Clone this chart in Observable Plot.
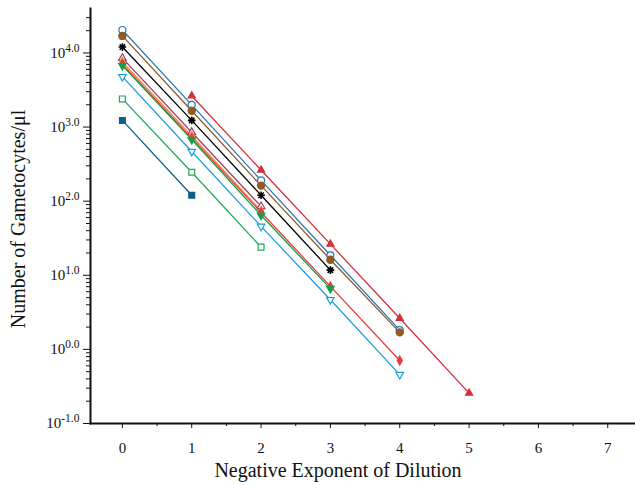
<!DOCTYPE html>
<html><head><meta charset="utf-8">
<script src="https://cdn.jsdelivr.net/npm/d3@7"></script>
<script src="https://cdn.jsdelivr.net/npm/@observablehq/plot@0.6"></script>
<style>
body{margin:0;background:#fff}
svg{font-family:"Liberation Serif","Times New Roman",serif}
</style>
</head><body><div id="chart"></div>
<script>
// Negative exponent of dilution (x)
const dilution = [0, 1, 2, 3, 4, 5];
const xTicks = [0, 1, 2, 3, 4, 5, 6, 7];
const xMinorTicks = [0.5, 1.5, 2.5, 3.5, 4.5, 5.5, 6.5];
const yTickExponents = [-1, 0, 1, 2, 3, 4];

// log10(gametocytes/µl) for each sample, starting at the given dilution
const blueCircle    = [4.31, 3.30, 2.28, 1.27, 0.26];
const brownCircle   = [4.23, 3.22, 2.21, 1.21, 0.23];
const blackAsterisk = [4.08, 3.09, 2.08, 1.07];
const purpleTriUp   = [3.93, 2.93, 1.93];
const orangeDiamond = [3.88, 2.88, 1.87];
const redDiamond    = [3.85, 2.85, 1.85, 0.85, -0.15];
const greenTriDown  = [3.83, 2.83, 1.81, 0.82];
const cyanTriDown   = [3.68, 2.67, 1.66, 0.67, -0.34];
const greenSquare   = [3.38, 2.39, 1.38];
const navySquare    = [3.09, 2.08];
const redTriUp      = [3.42, 2.42, 1.42, 0.42, -0.59];
const redTriUpStart = 1;

// custom symbols
const triDown = {draw(ctx, size){const r=Math.sqrt(size/Math.PI)*1.25;ctx.moveTo(0,r);ctx.lineTo(-r*0.866,-r*0.5);ctx.lineTo(r*0.866,-r*0.5);ctx.closePath();}};
const triUp = {draw(ctx, size){const r=Math.sqrt(size/Math.PI)*1.25;ctx.moveTo(0,-r);ctx.lineTo(-r*0.866,r*0.5);ctx.lineTo(r*0.866,r*0.5);ctx.closePath();}};
const star8 = {draw(ctx, size){const r=Math.sqrt(size/Math.PI)*1.1;for(let k=0;k<4;k++){const a=k*Math.PI/4;ctx.moveTo(-r*Math.cos(a),-r*Math.sin(a));ctx.lineTo(r*Math.cos(a),r*Math.sin(a));}}};

const series = [
  {vals: blueCircle,    start: 0, color: "#2a78b8", symbol: "circle",  open: true,  r: 3.5},
  {vals: brownCircle,   start: 0, color: "#8f5a26", symbol: "circle",  open: false, r: 3.6},
  {vals: blackAsterisk, start: 0, color: "#000000", symbol: star8,     open: "stroke", r: 3.5},
  {vals: purpleTriUp,   start: 0, color: "#a03f78", symbol: triUp,     open: true,  r: 3.5},
  {vals: orangeDiamond, start: 0, color: "#f08a24", symbol: "diamond", open: false, r: 2.7},
  {vals: redDiamond,    start: 0, color: "#ec3a3c", symbol: "diamond", open: false, r: 2.7},
  {vals: greenTriDown,  start: 0, color: "#12a04e", symbol: triDown,   open: false, r: 3.5},
  {vals: cyanTriDown,   start: 0, color: "#1c9ee0", symbol: triDown,   open: true,  r: 3.5},
  {vals: greenSquare,   start: 0, color: "#1fa85e", symbol: "square",  open: true,  r: 3.3},
  {vals: navySquare,    start: 0, color: "#0e5f90", symbol: "square",  open: false, r: 3.3},
  {vals: redTriUp,      start: redTriUpStart, color: "#d3303a", symbol: triUp, open: false, r: 3.3}
];

const rowsOf = s => s.vals.map((e, i) => ({x: dilution[s.start + i], y: Math.pow(10, e)}));

const yMajor = yTickExponents.map(e => Math.pow(10, e));
const yMinor = [];
for (const e of yTickExponents) for (let m = 2; m <= 9; m++) { const v = m * Math.pow(10, e); if (v <= Math.pow(10, 4.6)) yMinor.push(v); }

const marks = [];
for (const s of series) marks.push(Plot.line(rowsOf(s), {x: "x", y: "y", stroke: s.color, strokeWidth: 1.3}));
for (const s of series) {
  const opts = {x: "x", y: "y", symbol: s.symbol, r: s.r, stroke: s.color, strokeWidth: 1.2};
  if (s.open === true) opts.fill = "white";
  else if (s.open === "stroke") { opts.fill = "none"; opts.strokeWidth = 1.6; }
  else opts.fill = s.color;
  marks.push(Plot.dot(rowsOf(s), opts));
}

const chart = Plot.plot({
  width: 635, height: 485,
  marginLeft: 90, marginRight: 0, marginTop: 8, marginBottom: 62,
  style: {fontFamily: '"Liberation Serif", "Times New Roman", serif', background: "white", color: "#111"},
  x: {domain: [-0.46, 7.4]},
  y: {type: "log", domain: [0.1, Math.pow(10, 4.6)]},
  marks: [
    Plot.axisX({ticks: xTicks, tickSize: 5, tickPadding: 14, fontSize: 14, label: null, tickFormat: d => String(d)}),
    Plot.axisX({ticks: xMinorTicks, tickSize: 3, tickFormat: () => "", label: null}),
    Plot.axisY({ticks: yMajor, tickSize: 7, tickPadding: 4, fontSize: 14, label: null,
      tickFormat: d => "10|" + Math.log10(d).toFixed(1)}),
    Plot.axisY({ticks: yMinor, tickSize: 4, tickFormat: () => "", label: null}),
    Plot.frame({anchor: "left", strokeWidth: 2}),
    Plot.frame({anchor: "bottom", strokeWidth: 2}),
    Plot.text(["Number of Gametocytes/μl"], {frameAnchor: "left", textAnchor: "middle", dx: -72, dy: 3, rotate: -90, fontSize: 20, fill: "#111"}),
    Plot.text(["Negative Exponent of Dilution"], {frameAnchor: "bottom", textAnchor: "middle", dy: 53, dx: -25, fontSize: 20, fill: "#111"}),
    ...marks
  ]
});

// tick label sizes + superscript exponents in y tick labels
d3.select(chart).selectAll("text").each(function () {
  const t = this.textContent;
  const sel = d3.select(this);
  if (t.startsWith("10|")) {
    const exp = t.slice(3);
    sel.text("");
    sel.style("font-size", "15px");
    sel.append("tspan").text("10");
    sel.append("tspan").style("font-size", "11.5px").attr("dy", -6).text(exp);
  } else if (/^\d$/.test(t)) {
    sel.style("font-size", "15px");
  }
});

document.getElementById("chart").appendChild(chart);
</script>
</body></html>
